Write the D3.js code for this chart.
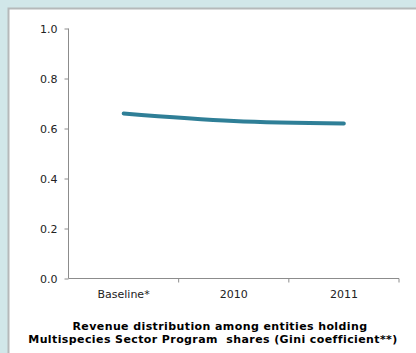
<!DOCTYPE html>
<html>
<head>
<meta charset="utf-8">
<script src="https://cdn.jsdelivr.net/npm/d3@7"></script>
<style>
  html, body { margin: 0; padding: 0; background: #d1e7e9; }
  svg { display: block; }
</style>
</head>
<body>
<svg id="chart" width="416" height="353"></svg>
<script>
// Gini coefficient of revenue distribution, by period
const categories = ["Baseline*", "2010", "2011"];
const giniValues = [0.66, 0.63, 0.62];
const yTicks = [0.0, 0.2, 0.4, 0.6, 0.8, 1.0];
const titleLines = [
  "Revenue distribution among entities holding",
  "Multispecies Sector Program  shares (Gini coefficient**)"
];

const svg = d3.select("#chart");
const W = 416, H = 353;
const margin = { left: 68.5, right: 17, top: 28.5, bottom: 74.5 };

// white panel with a grey frame
svg.append("rect")
  .attr("x", 8.5).attr("y", 8.5)
  .attr("width", W).attr("height", H)
  .attr("fill", "#ffffff")
  .attr("stroke", "#b5b9ba").attr("stroke-width", 2);

const x = d3.scaleBand()
  .domain(categories)
  .range([margin.left, W - margin.right])
  .paddingInner(0).paddingOuter(0);

const y = d3.scaleLinear()
  .domain([0, 1])
  .range([H - margin.bottom, margin.top]);

const font = "'DejaVu Sans', Verdana, sans-serif";

// y axis
const yAxis = svg.append("g")
  .attr("transform", `translate(${margin.left},0)`)
  .call(d3.axisLeft(y).tickValues(yTicks).tickFormat(d3.format(".1f")).tickSize(4).tickPadding(7));
yAxis.select(".domain").attr("stroke", "#8c8c8c").attr("d", `M0,${y(1)}V${y(0)}`);
yAxis.selectAll(".tick line").attr("stroke", "#8c8c8c");
yAxis.selectAll(".tick text").attr("fill", "#222").style("font", `11px ${font}`);

// x axis: ticks sit on category boundaries
const xAxisG = svg.append("g")
  .attr("transform", `translate(0,${y(0)})`);
xAxisG.append("line")
  .attr("x1", margin.left).attr("x2", W - margin.right)
  .attr("stroke", "#8c8c8c");
const bounds = categories.map(c => x(c) + x.bandwidth());
xAxisG.selectAll("line.tk").data(bounds).join("line")
  .attr("class", "tk")
  .attr("x1", d => d).attr("x2", d => d)
  .attr("y1", 0).attr("y2", 4)
  .attr("stroke", "#8c8c8c");
xAxisG.selectAll("text").data(categories).join("text")
  .attr("x", d => x(d) + x.bandwidth() / 2)
  .attr("y", 19.5)
  .attr("text-anchor", "middle")
  .attr("fill", "#222")
  .style("font", `11px ${font}`)
  .text(d => d);

// series line
const line = d3.line()
  .x((d, i) => x(categories[i]) + x.bandwidth() / 2)
  .y(d => y(d))
  .curve(d3.curveMonotoneX);
svg.append("path")
  .datum(giniValues)
  .attr("d", line)
  .attr("fill", "none")
  .attr("stroke", "#2f7f97")
  .attr("stroke-width", 3.8)
  .attr("stroke-linecap", "round");

// title under the chart
svg.selectAll("text.title").data(titleLines).join("text")
  .attr("class", "title")
  .attr("x", (d, i) => i === 0 ? 220 : 213)
  .attr("y", (d, i) => 329.5 + i * 13)
  .attr("text-anchor", "middle")
  .attr("fill", "#000")
  .style("font", `bold 11px ${font}`)
  .style("letter-spacing", "0.4px")
  .style("white-space", "pre")
  .text(d => d);
</script>
</body>
</html>
